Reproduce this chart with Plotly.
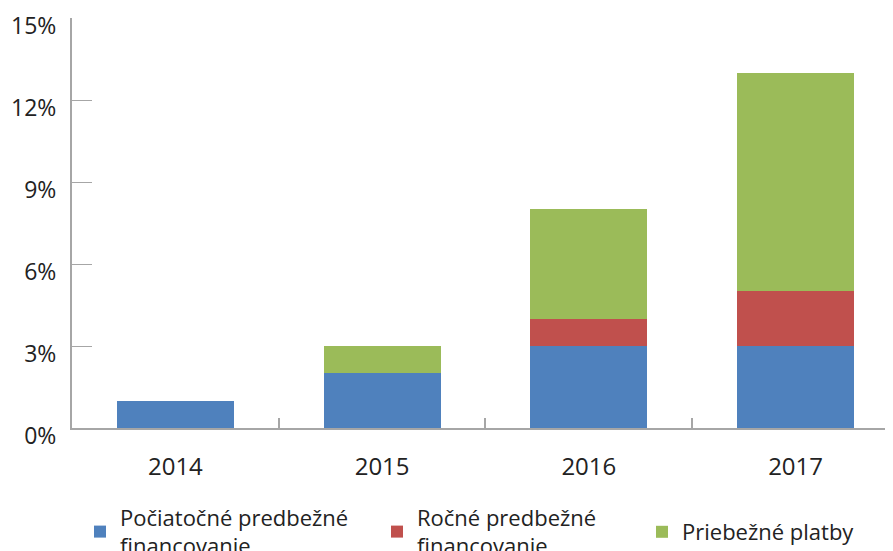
import plotly.graph_objects as go

years = ["2014", "2015", "2016", "2017"]
initial_prefin = [1, 2, 3, 3]
annual_prefin = [0, 0, 1, 2]
interim_payments = [0, 1, 4, 8]
y_ticks = [0, 3, 6, 9, 12, 15]
y_tick_labels = ["0%", "3%", "6%", "9%", "12%", "15%"]

names = ["Počiatočné predbežné<br>financovanie", "Ročné predbežné<br>financovanie", "Priebežné platby"]
colors = ["#4F81BD", "#C0504D", "#9BBB59"]
series = [initial_prefin, annual_prefin, interim_payments]
legend_ids = ["legend", "legend2", "legend3"]

W, H = 893, 551
FONT = "Open Sans"

fig = go.Figure()
for nm, col, vals, lg in zip(names, colors, series, legend_ids):
    fig.add_trace(go.Bar(
        x=years, y=vals, name=nm, marker=dict(color=col, line=dict(width=0)),
        legend=lg, showlegend=True,
    ))

def leg(xpx, ypx):
    return dict(
        xref="container", yref="container", x=xpx / W, y=1 - ypx / H,
        xanchor="left", yanchor="middle", bgcolor="rgba(0,0,0,0)",
        font=dict(family=FONT, size=22, color="#222"), borderwidth=0,
    )

fig.update_layout(
    width=W, height=H,
    margin=dict(l=64, r=0, t=10, b=131, autoexpand=False),
    paper_bgcolor="white", plot_bgcolor="white",
    barmode="stack", bargap=0.435,
    font=dict(family=FONT, size=22, color="#222"),
    legend=leg(72, 524),
    legend2=leg(369, 524),
    legend3=leg(634, 524),
    xaxis=dict(
        type="category", range=[-0.5, 3.51], automargin=False,
        showline=True, linecolor="#A6A6A6", linewidth=2,
        ticks="inside", tickson="boundaries", ticklen=10, tickcolor="#A6A6A6", tickwidth=2,
        showgrid=False, zeroline=False, tickangle=0,
        tickfont=dict(family=FONT, size=24, color="#222"),
        ticklabelstandoff=16,
    ),
    yaxis=dict(
        range=[0, 15], tickvals=y_ticks, ticktext=y_tick_labels, automargin=False,
        showline=True, linecolor="#A6A6A6", linewidth=2,
        ticks="inside", ticklen=20, tickcolor="#A6A6A6", tickwidth=1,
        showgrid=False, zeroline=False,
        tickfont=dict(family=FONT, size=23, color="#222"),
        ticklabelstandoff=9, ticklabeloverflow="allow",
        ticklabelshift=8,
    ),
)

fig.write_html("out.html")
